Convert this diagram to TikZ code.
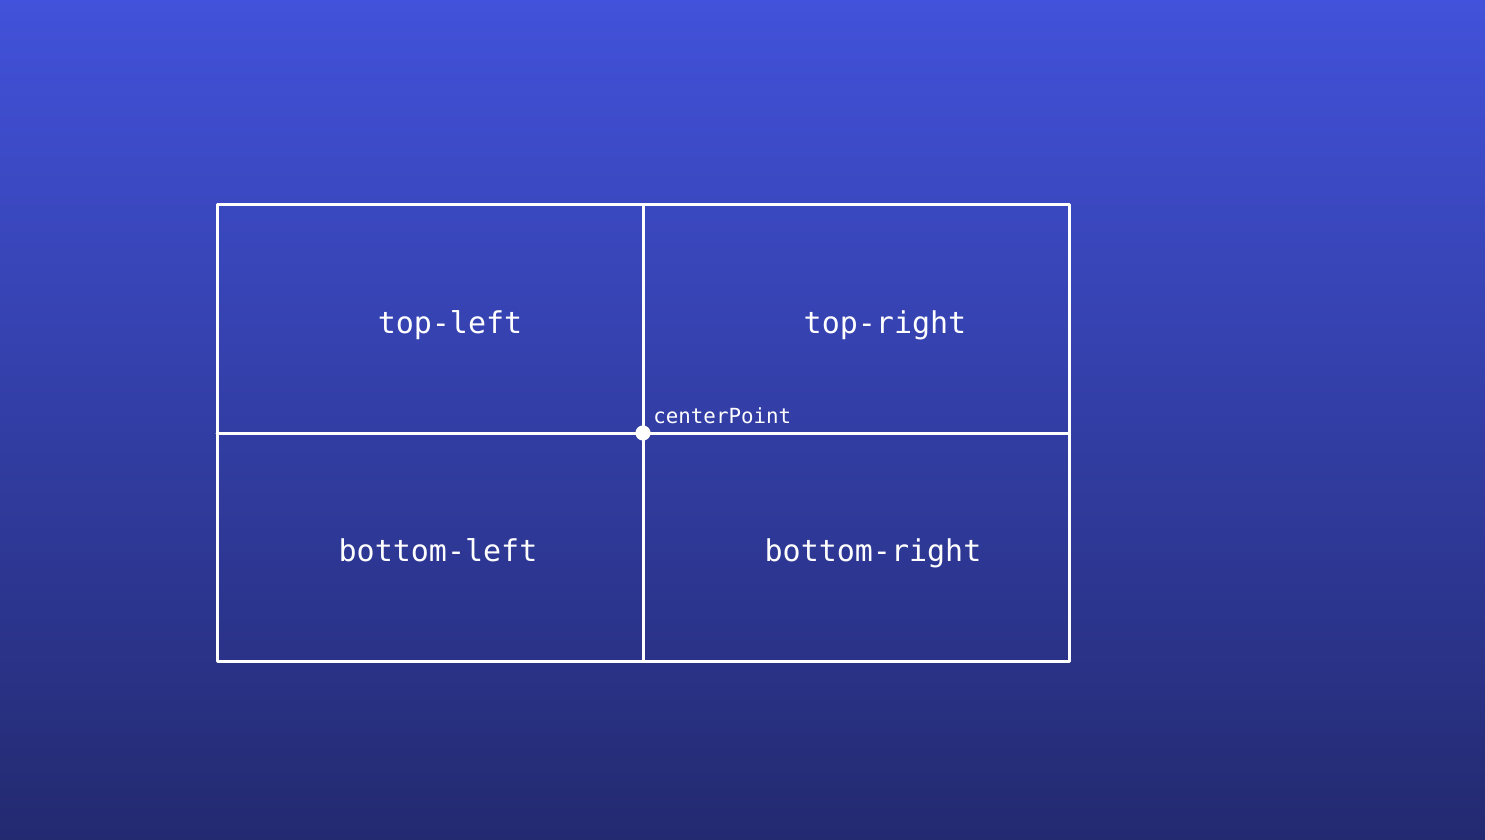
\documentclass[tikz,border=0pt]{standalone}
\usepackage{fontspec}
\setmonofont{DejaVu Sans Mono}
\usetikzlibrary{
	math, calc,
	positioning
}
\definecolor{fondoarriba}{RGB}{66,82,218}
\definecolor{fondoabajo}{RGB}{35,42,112}

\begin{document}
\begin{tikzpicture}[
	% Propiedades generales del dibujo (1 unidad = 1 px)
	x = 0.5pt, y = -0.5pt,
	line join = round, line cap = round,
	% Definición de nuevos estilos
	% 	a. líneas de la cuadrícula
	grid/.style = {
		draw = white,
		line width = 1.5pt
	},
	% 	b. texto de cada cuadrante
	quadrant/.style = {
		text = white,
		inner sep = 0pt,
		anchor = base,
		font = \ttfamily\fontsize{15}{17}\selectfont
	},
	%	c. punto central
	dot/.style = {
		circle, fill = white,
		minimum size = 7.6pt, inner sep = 0pt
	},
	%	d. etiqueta del punto central
	tag/.style = {
		text = white,
		inner sep = 0pt,
		font = \ttfamily\fontsize{10.4}{12}\selectfont
	},
]

	% fondo con degradado (fija también los márgenes)
	\shade[top color = fondoarriba, bottom color = fondoabajo]
		(0,0) rectangle (1485,840);

	% definición de las variables
	\tikzmath{
		\xa = 217;  % borde izq.
		\xb = 1069; % borde der.
		\ya = 205;  % borde sup.
		\yb = 661;  % borde inf.
	}

	% def. de las coordenadas importantes
	\coordinate (nw) at (\xa,\ya);
	\coordinate (se) at (\xb,\yb);
	\coordinate (c)  at (643,433); % centro
	\coordinate (n) at (c |- nw);
	\coordinate (s) at (c |- se);
	\coordinate (w) at (c -| nw);
	\coordinate (e) at (c -| se);

	% cuadrícula
	\draw[grid] (nw) rectangle (se);
	\draw[grid] (n) -- (s);
	\draw[grid] (w) -- (e);

	% textos de los cuadrantes
	\node[quadrant] (tl) at (450,333) {top-left};
	\node[quadrant] (tr) at (885,333) {top-right};
	\node[quadrant] (bl) at (438,561) {bottom-left};
	\node[quadrant] (br) at (873,561) {bottom-right};

	% punto central
	\node[dot] (centro) at (c) {};
	\node[tag, anchor = base west] (cp)
		at ($(c) + (10,-10)$) {centerPoint};

\end{tikzpicture}
\end{document}
